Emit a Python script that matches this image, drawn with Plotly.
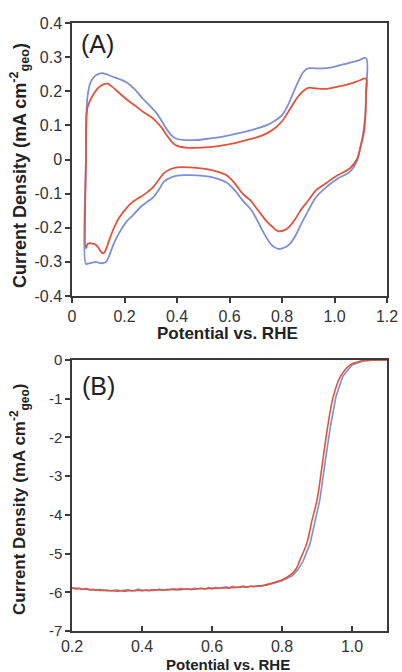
import plotly.graph_objects as go

# ---------------- Panel A: cyclic voltammograms ----------------
cv_blue_x = [0.053, 0.053, 0.054, 0.056, 0.06, 0.07, 0.085, 0.10, 0.115, 0.13, 0.15, 0.18, 0.21, 0.24, 0.27,
             0.30, 0.32, 0.34, 0.36, 0.38, 0.40, 0.43, 0.47, 0.52, 0.58, 0.64, 0.70, 0.74, 0.77, 0.80,
             0.82, 0.84, 0.86, 0.88, 0.90, 0.93, 0.97, 1.01, 1.05, 1.09, 1.12,
             1.12, 1.118, 1.11, 1.10, 1.085, 1.06, 1.01, 0.97, 0.93, 0.90, 0.87, 0.85, 0.83, 0.81, 0.785,
             0.76, 0.74, 0.72, 0.70, 0.68, 0.65, 0.62, 0.59, 0.55, 0.50, 0.45, 0.40, 0.37, 0.35, 0.33,
             0.31, 0.28, 0.26, 0.23, 0.21, 0.18, 0.16, 0.14, 0.13, 0.115, 0.10, 0.09, 0.075, 0.06, 0.053]
cv_blue_y = [-0.306, 0.0, 0.10, 0.15, 0.19, 0.225, 0.243, 0.25, 0.253, 0.25, 0.244, 0.236, 0.225, 0.205, 0.178,
             0.155, 0.138, 0.115, 0.09, 0.07, 0.06, 0.057, 0.057, 0.061, 0.068, 0.078, 0.09, 0.10, 0.112, 0.13,
             0.155, 0.19, 0.225, 0.255, 0.267, 0.267, 0.268, 0.274, 0.282, 0.29, 0.297,
             0.20, 0.14, 0.08, 0.04, -0.005, -0.035, -0.057, -0.08, -0.11, -0.15, -0.194, -0.225, -0.247, -0.258, -0.262,
             -0.25, -0.228, -0.20, -0.17, -0.145, -0.12, -0.09, -0.068, -0.055, -0.048, -0.046, -0.047, -0.055, -0.065, -0.09,
             -0.11, -0.128, -0.14, -0.165, -0.18, -0.215, -0.245, -0.285, -0.30, -0.304, -0.302, -0.30, -0.303, -0.305, -0.306]

cv_red_x = [0.053, 0.053, 0.054, 0.056, 0.06, 0.07, 0.085, 0.10, 0.12, 0.135, 0.15, 0.18, 0.21, 0.24, 0.27,
            0.30, 0.32, 0.34, 0.36, 0.38, 0.40, 0.43, 0.47, 0.52, 0.58, 0.64, 0.70, 0.74, 0.77, 0.80,
            0.82, 0.84, 0.86, 0.88, 0.90, 0.93, 0.97, 1.01, 1.05, 1.09, 1.12,
            1.12, 1.118, 1.112, 1.10, 1.085, 1.06, 1.01, 0.97, 0.93, 0.90, 0.87, 0.85, 0.83, 0.81, 0.785,
            0.76, 0.74, 0.72, 0.70, 0.68, 0.65, 0.62, 0.59, 0.55, 0.50, 0.45, 0.40, 0.37, 0.35, 0.33,
            0.31, 0.28, 0.26, 0.23, 0.21, 0.18, 0.16, 0.14, 0.13, 0.12, 0.11, 0.10, 0.09, 0.08, 0.07, 0.06, 0.053]
cv_red_y = [-0.26, 0.0, 0.10, 0.135, 0.155, 0.175, 0.195, 0.21, 0.22, 0.222, 0.215, 0.195, 0.175, 0.158, 0.14,
            0.125, 0.112, 0.095, 0.072, 0.052, 0.04, 0.035, 0.034, 0.036, 0.042, 0.052, 0.064, 0.076, 0.09, 0.112,
            0.135, 0.16, 0.183, 0.20, 0.21, 0.208, 0.207, 0.213, 0.22, 0.23, 0.237,
            0.19, 0.13, 0.08, 0.04, 0.0, -0.025, -0.047, -0.068, -0.09, -0.12, -0.15, -0.175, -0.195, -0.207, -0.21,
            -0.195, -0.18, -0.16, -0.14, -0.12, -0.10, -0.07, -0.047, -0.035, -0.027, -0.023, -0.023, -0.03, -0.04, -0.06,
            -0.08, -0.10, -0.11, -0.125, -0.14, -0.17, -0.20, -0.24, -0.262, -0.275, -0.27, -0.258, -0.25, -0.247, -0.245, -0.247, -0.26]

# ---------------- Panel B: polarization curves ----------------
lsv_flat_x = [0.20, 0.21, 0.22, 0.23, 0.24, 0.25, 0.26, 0.27, 0.28, 0.29,
              0.30, 0.31, 0.32, 0.33, 0.34, 0.35, 0.36, 0.37, 0.38, 0.39,
              0.40, 0.41, 0.42, 0.43, 0.44, 0.45, 0.46, 0.47, 0.48, 0.49,
              0.50, 0.51, 0.52, 0.53, 0.54, 0.55, 0.56, 0.57, 0.58, 0.59,
              0.60, 0.61, 0.62, 0.63, 0.64, 0.65, 0.66, 0.67, 0.68, 0.69,
              0.70, 0.71, 0.72, 0.73, 0.74, 0.75]
lsv_red_flat_y = [-5.89, -5.90, -5.91, -5.92, -5.92, -5.93, -5.94, -5.94, -5.95, -5.95,
                  -5.96, -5.96, -5.96, -5.97, -5.96, -5.97, -5.96, -5.96, -5.96, -5.95,
                  -5.96, -5.95, -5.95, -5.95, -5.94, -5.94, -5.94, -5.94, -5.93, -5.93,
                  -5.93, -5.93, -5.92, -5.92, -5.92, -5.92, -5.91, -5.91, -5.91, -5.90,
                  -5.90, -5.90, -5.89, -5.89, -5.89, -5.88, -5.88, -5.87, -5.87, -5.86,
                  -5.86, -5.85, -5.85, -5.84, -5.83, -5.82]
lsv_blue_flat_y = [-5.88, -5.91, -5.89, -5.92, -5.90, -5.93, -5.92, -5.94, -5.93, -5.95,
                   -5.94, -5.96, -5.95, -5.94, -5.96, -5.95, -5.93, -5.96, -5.95, -5.92,
                   -5.95, -5.94, -5.96, -5.93, -5.94, -5.92, -5.95, -5.92, -5.93, -5.91,
                   -5.93, -5.90, -5.92, -5.91, -5.93, -5.90, -5.91, -5.89, -5.92, -5.88,
                   -5.91, -5.87, -5.90, -5.88, -5.86, -5.89, -5.85, -5.88, -5.86, -5.84,
                   -5.87, -5.84, -5.85, -5.83, -5.84, -5.82]
lsv_red_rise_x = [0.78, 0.80, 0.823, 0.84, 0.851, 0.871, 0.886, 0.90, 0.915, 0.929, 0.946, 0.966, 0.994, 1.023, 1.05, 1.10]
lsv_red_rise_y = [-5.74, -5.68, -5.56, -5.40, -5.17, -4.73, -4.13, -3.62, -2.70, -1.81, -0.96, -0.44, -0.13, -0.03, -0.005, 0.0]
lsv_blue_rise_x = [0.78, 0.80, 0.83, 0.845, 0.86, 0.88, 0.895, 0.908, 0.922, 0.937, 0.954, 0.974, 1.0, 1.03, 1.06, 1.10]
lsv_blue_rise_y = [-5.76, -5.70, -5.57, -5.42, -5.20, -4.75, -4.15, -3.62, -2.72, -1.80, -0.95, -0.42, -0.13, -0.03, -0.005, 0.0]

# tick labels
a_xticks = [0, 0.2, 0.4, 0.6, 0.8, 1.0, 1.2]
a_xtext = ["0", "0.2", "0.4", "0.6", "0.8", "1.0", "1.2"]
a_yticks = [0.4, 0.3, 0.2, 0.1, 0, -0.1, -0.2, -0.3, -0.4]
a_ytext = ["0.4", "0.3", "0.2", "0.1", "0", "-0.1", "-0.2", "-0.3", "-0.4"]
b_xticks = [0.2, 0.4, 0.6, 0.8, 1.0]
b_xtext = ["0.2", "0.4", "0.6", "0.8", "1.0"]
b_yticks = [0, -1, -2, -3, -4, -5, -6, -7]
b_ytext = ["0", "-1", "-2", "-3", "-4", "-5", "-6", "-7"]

BLUE = "#7d90d4"
RED = "#e2533b"
W, H = 402, 672
FONT = "Liberation Sans, Arial"

fig = go.Figure()
fig.add_trace(go.Scatter(x=cv_blue_x, y=cv_blue_y, mode="lines", line=dict(color=BLUE, width=1.8),
                         xaxis="x", yaxis="y", line_shape="spline"))
fig.add_trace(go.Scatter(x=cv_red_x, y=cv_red_y, mode="lines", line=dict(color=RED, width=1.8),
                         xaxis="x", yaxis="y", line_shape="spline"))
fig.add_trace(go.Scatter(x=lsv_flat_x + lsv_blue_rise_x, y=lsv_blue_flat_y + lsv_blue_rise_y, mode="lines",
                         line=dict(color=BLUE, width=1.6), xaxis="x2", yaxis="y2"))
fig.add_trace(go.Scatter(x=lsv_flat_x + lsv_red_rise_x, y=lsv_red_flat_y + lsv_red_rise_y, mode="lines",
                         line=dict(color=RED, width=1.6), xaxis="x2", yaxis="y2", line_shape="spline"))

axis_common = dict(showgrid=False, zeroline=False, showline=True, mirror=True, linecolor="#3a3a3a",
                   linewidth=1.5, ticks="outside", ticklen=5, tickwidth=1.5, tickcolor="#3a3a3a",
                   automargin=False, tickmode="array",
                   tickfont=dict(family=FONT, size=16, color="#333"))

xl, xr = 72 / W, 387 / W
fig.update_layout(
    width=W, height=H, margin=dict(l=0, r=0, t=0, b=0, autoexpand=False),
    paper_bgcolor="white", plot_bgcolor="white", showlegend=False,
    xaxis=dict(axis_common, domain=[xl, xr], range=[0, 1.2], tickvals=a_xticks, ticktext=a_xtext, anchor="y"),
    yaxis=dict(axis_common, domain=[1 - 296 / H, 1 - 23 / H], range=[-0.4, 0.4], tickvals=a_yticks,
               ticktext=a_ytext, anchor="x"),
    xaxis2=dict(axis_common, domain=[xl, xr], range=[0.2, 1.1], tickvals=b_xticks, ticktext=b_xtext,
                anchor="y2", ticks="inside", tickfont=dict(family=FONT, size=16, color="#333")),
    yaxis2=dict(axis_common, domain=[1 - 631 / H, 1 - 360 / H], range=[-7, 0], tickvals=b_yticks,
                ticktext=b_ytext, anchor="x2", tickfont=dict(family=FONT, size=15, color="#333")),
)

ytitle = "<b>Current Density (mA cm<sup>-2</sup><sub>geo</sub>)</b>"
annos = [
    dict(text=ytitle, x=19 / W, y=1 - 166 / H, textangle=-90, size=18),
    dict(text=ytitle, x=19 / W, y=1 - 500 / H, textangle=-90, size=17),
    dict(text="<b>Potential vs. RHE</b>", x=227 / W, y=1 - 333 / H, textangle=0, size=17),
    dict(text="<b>Potential vs. RHE</b>", x=228 / W, y=1 - 664 / H, textangle=0, size=15),
]
for a in annos:
    sz = a.pop("size")
    fig.add_annotation(xref="paper", yref="paper", xanchor="center", yanchor="middle", showarrow=False,
                       font=dict(family=FONT, size=sz, color="#222"), **a)
fig.add_annotation(xref="paper", yref="paper", x=97 / W, y=1 - 44 / H, text="(A)", showarrow=False,
                   xanchor="center", yanchor="middle", font=dict(family=FONT, size=25, color="#222"))
fig.add_annotation(xref="paper", yref="paper", x=98 / W, y=1 - 386 / H, text="(B)", showarrow=False,
                   xanchor="center", yanchor="middle", font=dict(family=FONT, size=25, color="#222"))

fig.write_html("out.html")
